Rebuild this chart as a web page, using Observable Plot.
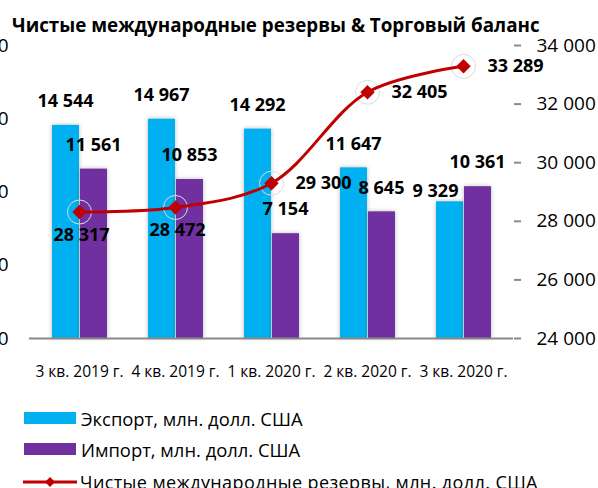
<!DOCTYPE html>
<html>
<head>
<meta charset="utf-8">
<script src="https://cdn.jsdelivr.net/npm/d3@7"></script>
<script src="https://cdn.jsdelivr.net/npm/@observablehq/plot@0.6"></script>
<style>
  html, body { margin: 0; padding: 0; background: #fff; }
  #wrap { position: relative; width: 598px; height: 488px; overflow: hidden; font-family: "Open Sans", sans-serif; color: #000; }
  #title { position: absolute; left: 12px; top: 13px; font-size: 18.8px; font-weight: bold; line-height: 24px; white-space: nowrap; }
  #chart { position: absolute; left: 0; top: 35px; }
  #chart svg { overflow: visible; }
  #chart g[aria-label="bar"] rect { filter: drop-shadow(0px 0px 2px rgba(0,0,0,0.28)); }
  .lg { position: absolute; left: 0; height: 24px; display: flex; align-items: center; font-size: 18.4px; white-space: nowrap; }
  .sw { display: inline-block; width: 52px; height: 12px; margin-left: 24px; margin-right: 5px; }
</style>
</head>
<body>
<div id="wrap">
  <div id="title">Чистые международные резервы &amp; Торговый баланс</div>
  <div id="chart"></div>
  <div class="lg" style="top:406px"><span class="sw" style="background:#00B0F0"></span>Экспорт, млн. долл. США</div>
  <div class="lg" style="top:437px"><span class="sw" style="background:#7030A0"></span>Импорт, млн. долл. США</div>
  <div class="lg" style="top:470px;font-size:18px;letter-spacing:0.4px"><svg width="58" height="14" style="margin-left:22px;margin-right:0px"><line x1="1" y1="7" x2="55" y2="7" stroke="#C00000" stroke-width="3"/><path d="M28,2 L33,7 L28,12 L23,7 Z" fill="#C00000"/></svg>Чистые международные резервы, млн. долл. США</div>
</div>
<script>
const quarters = ["3 кв. 2019 г.", "4 кв. 2019 г.", "1 кв. 2020 г.", "2 кв. 2020 г.", "3 кв. 2020 г."];
const exportVals = [14544, 14967, 14292, 11647, 9329];
const importVals = [11561, 10853, 7154, 8645, 10361];
const reserves = [28317, 28472, 29300, 32405, 33289];
const leftTicks = [0, 5000, 10000, 15000, 20000];
const rightTicks = [24000, 26000, 28000, 30000, 32000, 34000];

const rows = quarters.map((q, i) => ({q, exp: exportVals[i], imp: importVals[i], res: reserves[i]}));

const fmt = d3.formatLocale({decimal: ",", thousands: "\u00a0", grouping: [3], currency: ["", ""]}).format(",d");
// secondary axis: reserves 24000..34000 mapped onto the primary 0..20000 scale
const resMin = rightTicks[0], resMax = rightTicks[rightTicks.length - 1];
const priMax = leftTicks[leftTicks.length - 1];
const toPri = v => (v - resMin) * priMax / (resMax - resMin);
const fromPri = v => v * (resMax - resMin) / priMax + resMin;

const gray = "#898989";
const bold = {fontWeight: "bold", fontSize: 18, fill: "#000"};

const chart = Plot.plot({
  width: 598,
  height: 353,
  marginTop: 10,
  marginLeft: 29,
  marginRight: 85,
  marginBottom: 50,
  style: {fontFamily: "Open Sans", background: "transparent", color: "#000"},
  x: {type: "band", domain: quarters, padding: 0},
  y: {domain: [0, priMax]},
  marks: [
    Plot.barY(rows, {x: "q", y: "exp", fill: "#00B0F0", insetLeft: 21, insetRight: 48}),
    Plot.barY(rows, {x: "q", y: "imp", fill: "#7030A0", insetLeft: 49, insetRight: 20}),
    Plot.ruleY([0], {stroke: gray, strokeWidth: 2}),
    Plot.axisY({anchor: "left", ticks: leftTicks, tickFormat: fmt, tickSize: 0, tickPadding: 21, line: true, stroke: gray, strokeWidth: 2, fontSize: 19, fill: "#000", label: null}),
    Plot.axisY({anchor: "right", ticks: rightTicks.map(toPri), tickFormat: d => fmt(fromPri(d)), tickSize: 7, tickPadding: 16, line: true, stroke: gray, strokeWidth: 2, fontSize: 19, fill: "#000", label: null}),
    Plot.axisX({anchor: "bottom", tickSize: 0, tickPadding: 27, fontSize: 15.5, fill: "#000", label: null}),
    Plot.dot(rows, {x: "q", y: d => toPri(d.res), r: 12, stroke: "#dcdcdc", strokeWidth: 1, fill: "none"}),
    Plot.line(rows, {x: "q", y: d => toPri(d.res), stroke: "#C00000", strokeWidth: 3, curve: "catmull-rom"}),
    Plot.dot(rows, {x: "q", y: d => toPri(d.res), symbol: "diamond2", r: 6.5, fill: "#C00000", stroke: "none"}),
    Plot.text(rows.slice(0, 4), {x: "q", y: "exp", text: d => fmt(d.exp), dx: -14, dy: -24, ...bold}),
    Plot.text(rows.slice(4), {x: "q", y: "exp", text: d => fmt(d.exp), dx: -28, dy: -11, ...bold}),
    Plot.text(rows, {x: "q", y: "imp", text: d => fmt(d.imp), dx: 14, dy: -24, ...bold}),
    Plot.text(rows.slice(0, 2), {x: "q", y: d => toPri(d.res), text: d => fmt(d.res), dx: 2, dy: 23, ...bold}),
    Plot.text(rows.slice(2), {x: "q", y: d => toPri(d.res), text: d => fmt(d.res), dx: 24, dy: 0, textAnchor: "start", ...bold})
  ]
});
document.getElementById("chart").appendChild(chart);
</script>
</body>
</html>
